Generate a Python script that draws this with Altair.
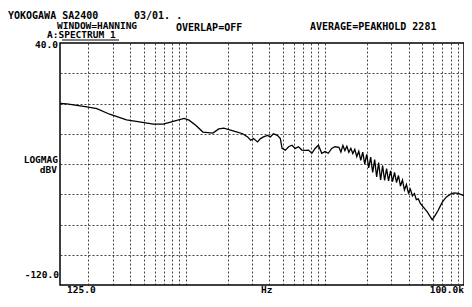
import altair as alt
import pandas as pd

# ---- data ----
low_freq_hz = [125, 140, 165, 195, 230, 284, 376, 465, 585, 690, 813, 974, 1057, 1186,
               1330, 1568, 1730, 1879, 2288, 2567, 2786, 2928, 3075, 3284, 3449, 3624,
               3869, 4065, 4270, 4560, 4791, 4926, 5201, 5491, 5805, 6129, 6470, 6840,
               7224, 7625, 8064, 8514, 8988, 9503, 10031, 10590, 11199, 11821]
low_level_dbv = [0.0, -0.3, -1.3, -2.2, -3.4, -7.1, -10.8, -12.1, -13.6, -13.6, -11.8, -9.9, -11.0, -14.6,
                 -18.9, -19.6, -16.8, -16.3, -18.6, -20.0, -22.1, -24.3, -23.2, -25.4, -23.2, -22.1,
                 -21.1, -22.1, -20.0, -21.1, -23.2, -29.7, -30.8, -28.6, -27.6, -29.7, -28.6, -30.8,
                 -31.0, -30.8, -32.9, -29.7, -27.6, -32.9, -31.8, -32.9, -29.7, -28.6]

mid_freq_hz = [12624, 13046, 13482, 13932, 14397, 14878, 15375, 15888, 16419, 16967,
               17534, 18119, 18724, 19350, 19996, 20664, 21354, 22067, 22804, 23565,
               24352, 25165, 26006, 26874, 27772, 28699, 29658, 30648, 31672, 32729,
               33822, 34952, 36119, 37325, 38572, 39860, 41191, 42567, 43988, 45457,
               46975, 48544]
mid_level_dbv = [-29.0, -32.1, -27.7, -31.1, -28.3, -32.2, -29.6, -33.1, -30.3, -35.1,
                 -31.6, -37.6, -32.1, -40.1, -33.6, -42.6, -35.4, -45.6, -37.1, -48.6,
                 -39.1, -50.6, -41.1, -50.9, -43.1, -51.1, -44.6, -51.6, -45.6, -52.2,
                 -47.6, -54.6, -50.6, -57.1, -53.6, -59.1, -56.6, -61.1, -59.6, -63.6,
                 -63.1, -66.1]

high_freq_hz = [54450, 59120, 62100, 65240, 69660, 74400, 79450, 84840, 90600, 96750, 100000]
high_level_dbv = [-71.6, -76.9, -74.0, -70.6, -65.4, -61.9, -60.1, -59.1, -59.4, -60.4, -61.0]

x_grid_hz = [200, 300, 400, 500, 600, 700, 800, 900,
             1000, 2000, 3000, 4000, 5000, 6000, 7000, 8000, 9000,
             10000, 20000, 30000, 40000, 50000, 60000, 70000, 80000, 90000]
y_grid_dbv = [20, 0, -20, -40, -60, -80, -100]

df = pd.DataFrame({
    "f": low_freq_hz + mid_freq_hz + high_freq_hz,
    "db": low_level_dbv + mid_level_dbv + high_level_dbv,
})

FONT = "DejaVu Sans Mono"

grid_axis = dict(grid=True, labels=False, ticks=False, domain=False, title=None,
                 gridDash=[2, 2], gridColor="#222222", gridWidth=1, gridOpacity=0.85)

line = alt.Chart(df).mark_line(color="black", strokeWidth=1.3).encode(
    x=alt.X("f:Q", scale=alt.Scale(type="log", domain=[125, 100000], nice=False),
            axis=alt.Axis(values=x_grid_hz, **grid_axis)),
    y=alt.Y("db:Q", scale=alt.Scale(domain=[-120, 40], nice=False),
            axis=alt.Axis(values=y_grid_dbv, **grid_axis)),
)


def label(text, x, y, align="left", size=9.5):
    return alt.Chart(alt.Data(values=[{"t": text}])).mark_text(
        align=align, baseline="alphabetic", font=FONT, fontSize=size,
        fontWeight="bold", color="black"
    ).encode(text="t:N", x=alt.value(x), y=alt.value(y))


labels = [
    label("YOKOGAWA SA2400", -52, -24, size=10),
    label("03/01. .", 74, -24, size=10),
    label("WINDOW=HANNING", -3, -14.5),
    label("OVERLAP=OFF", 116, -12.5, size=10),
    label("AVERAGE=PEAKHOLD 2281", 250, -13, size=10),
    label("A:SPECTRUM 1", -13, -5),
    label("40.0", -2, 5, "right"),
    label("LOGMAG", -2, 119.5, "right"),
    label("dBV", -3, 129.5, "right"),
    label("-120.0", -1, 235, "right"),
    label("125.0", 7, 250),
    label("Hz", 201, 250),
    label("100.0k", 404, 250, "right"),
]

underline = alt.Chart(alt.Data(values=[{}])).mark_rule(color="black", strokeWidth=1).encode(
    x=alt.value(2), x2=alt.value(59), y=alt.value(-3))

chart = alt.layer(line, underline, *labels).properties(
    width=404, height=242,
    autosize=alt.AutoSizeParams(type="none"),
    padding={"left": 52, "top": 35, "right": 0, "bottom": 10},
    background="white",
).configure_view(stroke="black", strokeWidth=1.5)

chart.save("out.html", embed_options={"renderer": "svg", "actions": False})
